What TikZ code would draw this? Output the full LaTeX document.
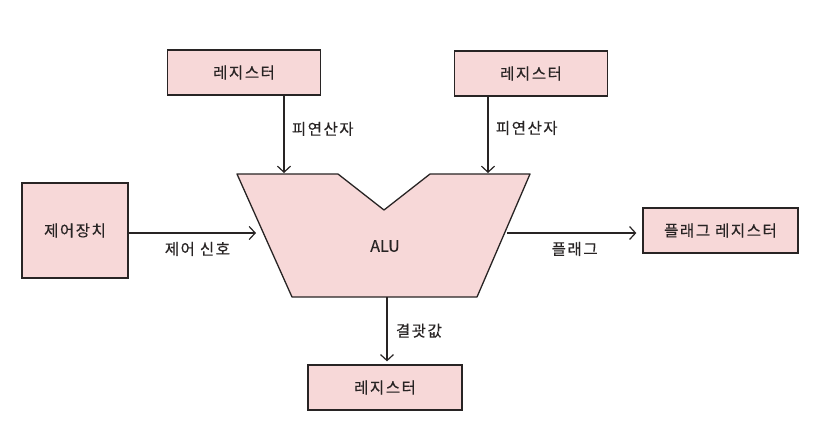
\documentclass[tikz,border=0pt]{standalone}
\usepackage{fontspec}
\setmainfont[LetterSpace=10,FakeBold=0.4]{Noto Sans CJK KR}
\newfontfamily\plainfont[FakeBold=0.4]{Noto Sans CJK KR}
\usetikzlibrary{positioning}
\usetikzlibrary{arrows.meta}
\definecolor{boxColor}{RGB}{247,216,216}
\definecolor{inkColor}{RGB}{40,36,36}

\begin{document}
\begin{tikzpicture}[x=1pt,y=-1pt,
  regbox/.style={draw=inkColor, fill=boxColor, line width=1.3pt, inner sep=0pt,
    minimum width=153pt, minimum height=45pt, text=inkColor,
    font=\fontsize{15.5}{17}\selectfont},
  flow/.style={draw=inkColor, line width=1.2pt, -{Straight Barb[length=6pt,width=13pt]}},
  lbl/.style={text=inkColor, font=\fontsize{15.5}{17}\selectfont}]
\useasboundingbox (0,0) rectangle (824,440);

% registers and units
\node [regbox] (regL) at (244,72.5) {레지스터};
\node [regbox] (regR) at (531,73.5) {레지스터};
\node [regbox, minimum width=106pt, minimum height=95pt] (ctrl) at (75,230.5) {제어장치};
\node [regbox, minimum width=155pt] (flag) at (720.5,230.5) {플래그 레지스터};
\node [regbox, minimum width=154pt] (regB) at (385,387.5) {레지스터};

% ALU
\draw [fill=boxColor, draw=inkColor, line width=1.3pt, line join=round]
  (237,174) -- (338,174) -- (384,210) -- (430,174) -- (530,174)
  -- (477,297) -- (292,297) -- cycle;
\node [lbl, font=\plainfont\fontsize{16}{18}\selectfont] (alu) at (385,246) {ALU};

\coordinate (inL) at (284,173);
\coordinate (inR) at (488,173);
\coordinate (inC) at (256,233);
\coordinate (outF) at (507,233);
\coordinate (outB) at (387,297);

% signals
\draw [flow] (regL.south -| inL) -- node [lbl, right=4pt, pos=0.43] {피연산자} (inL);
\draw [flow] (regR.south -| inR) -- node [lbl, right=4pt, pos=0.41] {피연산자} (inR);
\draw [flow] (ctrl.east |- inC) -- node [lbl, below=5pt, pos=0.54] {제어 신호} (inC);
\draw [flow, shorten >=6pt] (outF) -- node [lbl, below=5pt, pos=0.5] {플래그} (outF -| flag.west);
\draw [flow, shorten >=3pt] (outB) -- node [lbl, right=5pt, pos=0.5] {결괏값} (outB |- regB.north);
\end{tikzpicture}
\end{document}
